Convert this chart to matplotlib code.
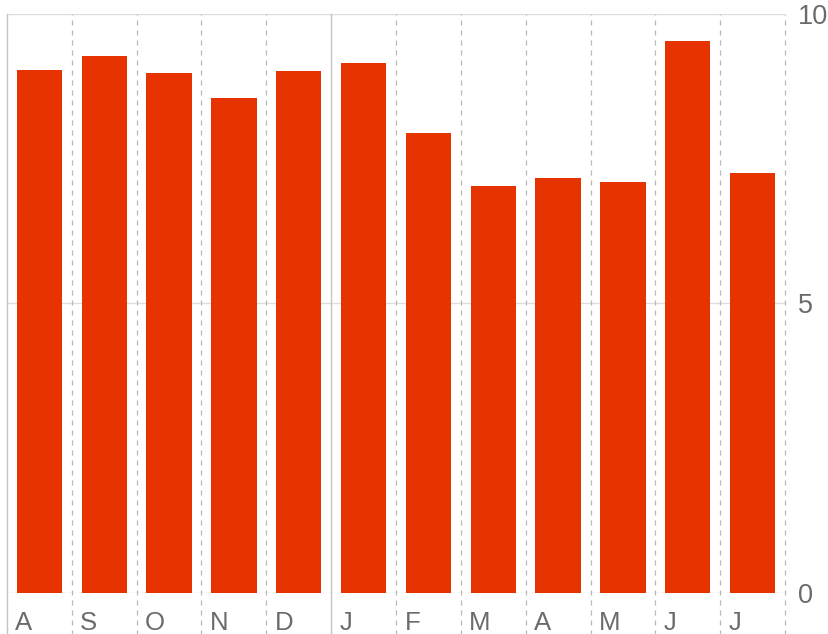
import matplotlib.pyplot as plt
import matplotlib.transforms as mtransforms

plt.rcParams['font.family'] = ['Liberation Sans', 'DejaVu Sans']

# --- DATA ---
months = ['A', 'S', 'O', 'N', 'D', 'J', 'F', 'M', 'A', 'M', 'J', 'J']
values = [9.03, 9.27, 8.98, 8.55, 9.02, 9.15, 7.94, 7.03, 7.17, 7.10, 9.53, 7.25]
yticks = [0, 5, 10]
year_break = 5  # boundary between D and J

# --- FIGURE ---
fig = plt.figure(figsize=(8.29, 6.34), dpi=100)
ax = fig.add_axes([0.0084, 0.0647, 0.9386, 0.9133])

n = len(months)
xs = [i + 0.5 for i in range(n)]
ax.bar(xs, values, width=0.7, color='#E63300', zorder=3)

ax.set_xlim(0, n)
ax.set_ylim(0, 10)

# horizontal grid
for y in yticks:
    ax.axhline(y, color='#dddddd', lw=1, zorder=1)

# vertical grid, running down through the label area
for i in range(n + 1):
    if i == 0 or i == year_break:
        ax.plot([i, i], [-0.72, 10], color='#c4c4c4', lw=1, ls='-',
                clip_on=False, zorder=2)
    else:
        ax.plot([i, i], [-0.72, 10], color='#b8b8b8', lw=0.9, ls=(0, (4, 4)),
                clip_on=False, zorder=2)

# month labels, left aligned inside each slot
trans = mtransforms.blended_transform_factory(ax.transData, ax.transAxes)
for i, m in enumerate(months):
    ax.text(i + 0.13, -0.052, m, transform=trans, ha='left', va='center',
            fontsize=18.5, color='#6b6b6b')

ax.set_xticks([])
ax.yaxis.tick_right()
ax.set_yticks(yticks)
ax.set_yticklabels([str(t) for t in yticks], fontsize=19.5, color='#6b6b6b')
ax.tick_params(axis='y', length=0, pad=9)
for s in ax.spines.values():
    s.set_visible(False)

plt.savefig('out.png', dpi=100)
plt.close()
